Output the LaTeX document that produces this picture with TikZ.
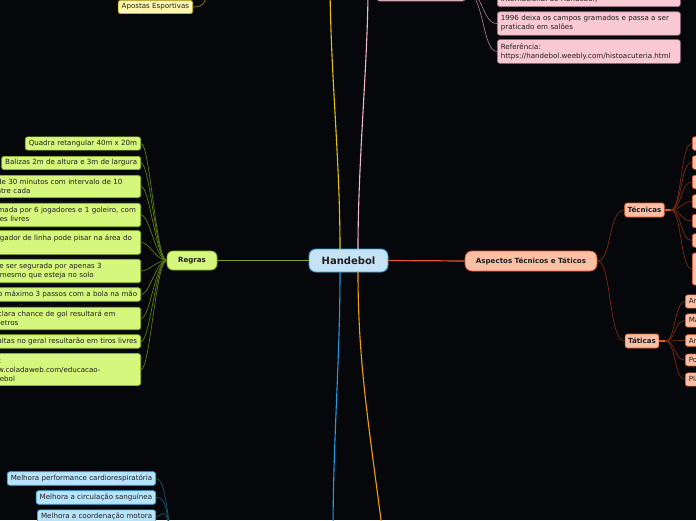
\documentclass[tikz,border=0pt]{standalone}
\usepackage{fontspec}
\setmainfont{DejaVu Sans}
\definecolor{bg}{HTML}{05070A}
\definecolor{txt}{HTML}{1E1E1E}
\definecolor{hfill}{HTML}{C6E2F5}
\definecolor{hdraw}{HTML}{3A9FDC}
\definecolor{gfill}{HTML}{D6F77E}
\definecolor{gdraw}{HTML}{8AB51A}
\definecolor{gline}{HTML}{7DA619}
\definecolor{gcon}{HTML}{5C7D12}
\definecolor{yline}{HTML}{E8C400}
\definecolor{yfill}{HTML}{FFF8B0}
\definecolor{ydraw}{HTML}{C9B01C}
\definecolor{ycon}{HTML}{8A7A10}
\definecolor{pline}{HTML}{F0B8C8}
\definecolor{pfill}{HTML}{F8C8D3}
\definecolor{pdraw}{HTML}{A07080}
\definecolor{pcon}{HTML}{9C7580}
\definecolor{oline}{HTML}{E8552A}
\definecolor{ofill}{HTML}{FBBFA6}
\definecolor{odraw}{HTML}{E05A2B}
\definecolor{ocon}{HTML}{7A2A10}
\definecolor{bline}{HTML}{1E9BE0}
\definecolor{bfill}{HTML}{B8E4FA}
\definecolor{bdraw}{HTML}{3BA4D8}
\definecolor{bcon}{HTML}{1B5670}
\definecolor{aline}{HTML}{F5A000}
\newcommand{\fsm}{\fontsize{7.1}{9}\selectfont}
\newcommand{\fbd}{\fontsize{7.1}{9}\selectfont\bfseries}
\tikzset{
  box/.style={draw, rounded corners=2.5pt, line width=0.7pt, inner xsep=3.5pt, inner ysep=3.2pt, font=\fsm, text=txt, align=left},
  multi/.style={inner ysep=3.8pt, text width=176pt},
  gbox/.style={box, fill=gfill, draw=gdraw},
  pbox/.style={box, fill=pfill, draw=pdraw},
  obox/.style={box, fill=ofill, draw=odraw},
  bbox/.style={box, fill=bfill, draw=bdraw},
  ybox/.style={box, fill=yfill, draw=ydraw},
  gc/.style={draw=gcon, line width=0.7pt},
  pc/.style={draw=pcon, line width=0.7pt},
  oc/.style={draw=ocon, line width=0.7pt},
  bc/.style={draw=bcon, line width=0.7pt},
  yc/.style={draw=ycon, line width=0.7pt},
}
\begin{document}
\begin{tikzpicture}[x=1pt,y=-1pt]
\useasboundingbox (0,0) rectangle (696,520);
\fill[bg] (0,0) rectangle (696,520);
\begin{scope}
\clip (0,0) rectangle (696,520);
% off-screen anchors
\coordinate (ytop) at (330,-12);
\coordinate (ptop) at (368,-12);
\coordinate (bbot) at (333,535);
\coordinate (abot) at (383,535);
\coordinate (ypar) at (207,-12);
\coordinate (bpar) at (172,545);

% central
\node[box, fill=hfill, draw=hdraw, rounded corners=7pt, line width=0.9pt, font=\fontsize{10}{12}\selectfont\bfseries, minimum width=79pt, minimum height=23pt] (H) at (348.5,260.5) {Handebol};

% main branches
\draw[yline, line width=1.1pt] (340,249) .. controls (340,160) and (331,80) .. (ytop);
\draw[pline, line width=1.1pt] (358,249) .. controls (358,160) and (368,60) .. (ptop);
\draw[bline, line width=1.1pt] (340,272) .. controls (340,360) and (333,440) .. (bbot);
\draw[aline, line width=1.1pt] (358,272) .. controls (358,360) and (368,420) .. (abot);

% Regras
\node[gbox, font=\fbd, rounded corners=6pt, minimum width=50pt, minimum height=19pt] (R) at (192,260.5) {Regras};
\draw[gline, line width=1.2pt] (H.west) -- (R.east);

\node[gbox, anchor=east] (r1) at (141,143.5) {Quadra retangular 40m x 20m};
\node[gbox, anchor=east] (r2) at (141,163) {Balizas 2m de altura e 3m de largura};
\node[gbox, multi, anchor=east] (r3) at (141,186.5) {2 tempos de 30 minutos com intervalo de 10\\minutos entre cada};
\node[gbox, multi, anchor=east] (r4) at (141,215) {Equipe formada por 6 jogadores e 1 goleiro, com\\substituições livres};
\node[gbox, multi, anchor=east] (r5) at (141,242.5) {Nenhum jogador de linha pode pisar na área do\\goleiro};
\node[gbox, multi, anchor=east] (r6) at (141,271) {A bola pode ser segurada por apenas 3\\segundos, mesmo que esteja no solo};
\node[gbox, anchor=east] (r7) at (141,294.5) {Pode-se dar no máximo 3 passos com a bola na mão};
\node[gbox, multi, anchor=east] (r8) at (141,318.5) {Falta com clara chance de gol resultará em\\tiro de 7 metros};
\node[gbox, anchor=east] (r9) at (141,341.5) {Faltas no geral resultarão em tiros livres};
\node[gbox, multi, anchor=east] (r10) at (141,369.5) {Referência:\\https://www.coladaweb.com/educacao-\\fisica/handebol};
\foreach \n in {r1,r2,r3,r4,r5,r6,r7,r8,r9,r10}{
  \draw[gc] (R.west) .. controls (156,260.5) and (150,0|-\n.east) .. (\n.east);
}

% Apostas Esportivas
\node[ybox, anchor=east] (ap) at (193,7) {Apostas Esportivas};
\draw[yc] (ap.east) .. controls (204,7) and (206,2) .. (ypar);

% pink branch
\node[pbox, minimum width=88pt, minimum height=20pt] (P) at (421,-9) {};
\node[pbox, multi, anchor=west] (p1) at (497,-5) {1928 é fundada a IAHF (Federação\\Internacional de Handebol)};
\node[pbox, multi, anchor=west] (p2) at (497,23.5) {1996 deixa os campos gramados e passa a ser\\praticado em salões};
\node[pbox, multi, anchor=west] (p3) at (497,51.5) {Referência:\\https://handebol.weebly.com/histoacuteria.html};
\foreach \n in {p1,p2,p3}{
  \draw[pc] (P.east) .. controls (484,-9) and (482,0|-\n.west) .. (\n.west);
}

% Aspectos
\node[obox, font=\fbd, rounded corners=7pt, minimum width=132pt, minimum height=20pt] (A) at (531,261) {Aspectos Técnicos e Táticos};
\draw[oline, line width=1.2pt] (H.east) -- (A.west);
\node[obox, font=\fbd, minimum height=14pt, inner xsep=3pt] (T1) at (644.5,210) {Técnicas};
\node[obox, font=\fbd, minimum height=14pt, inner xsep=3pt] (T2) at (642,341) {Táticas};
\draw[oc] (A.east) .. controls (612,261) and (608,210) .. (T1.west);
\draw[oc] (A.east) .. controls (612,261) and (608,341) .. (T2.west);

\coordinate (t1e) at ([xshift=6pt]T1.east);
\coordinate (t2e) at ([xshift=6pt]T2.east);
\draw[oline, line width=1.4pt] (T1.east) -- (t1e);
\draw[oline, line width=1.4pt] (T2.east) -- (t2e);

\foreach \n/\y in {a/143.5,b/162.5,c/182,d/201.5,e/221,f/240.5}{
  \node[obox, anchor=west, minimum width=60pt, minimum height=13.5pt] (tc\n) at (692,\y) {};
  \draw[oc] (t1e) .. controls (682,210) and (680,\y) .. (tc\n.west);
}
\node[obox, anchor=west, minimum width=60pt, minimum height=32pt] (tcg) at (692,269) {};
\draw[oc] (t1e) .. controls (682,210) and (680,269) .. (tcg.west);

\node[obox, anchor=west] (ta) at (685,301.5) {Armação};
\node[obox, anchor=west] (tb) at (685,320.5) {Marcação};
\node[obox, anchor=west] (tcc) at (685,340.5) {Arremesso};
\node[obox, anchor=west] (td) at (685,360) {Posicionamento};
\node[obox, anchor=west] (te) at (685,379.5) {Planejamento};
\foreach \n in {ta,tb,tcc,td,te}{
  \draw[oc] (t2e) .. controls (676,341) and (674,0|-\n.west) .. (\n.west);
}

% blue children
\node[bbox, anchor=east] (b1) at (156,478.5) {Melhora performance cardiorespiratória};
\node[bbox, anchor=east] (b2) at (156,497.5) {Melhora a circulação sanguínea};
\node[bbox, anchor=east] (b3) at (156,516.5) {Melhora a coordenação motora};
\foreach \n in {b1,b2,b3}{
  \draw[bc] (\n.east) .. controls (164,0|-\n.east) and (166,500) .. (bpar);
}
\end{scope}
\end{tikzpicture}
\end{document}
